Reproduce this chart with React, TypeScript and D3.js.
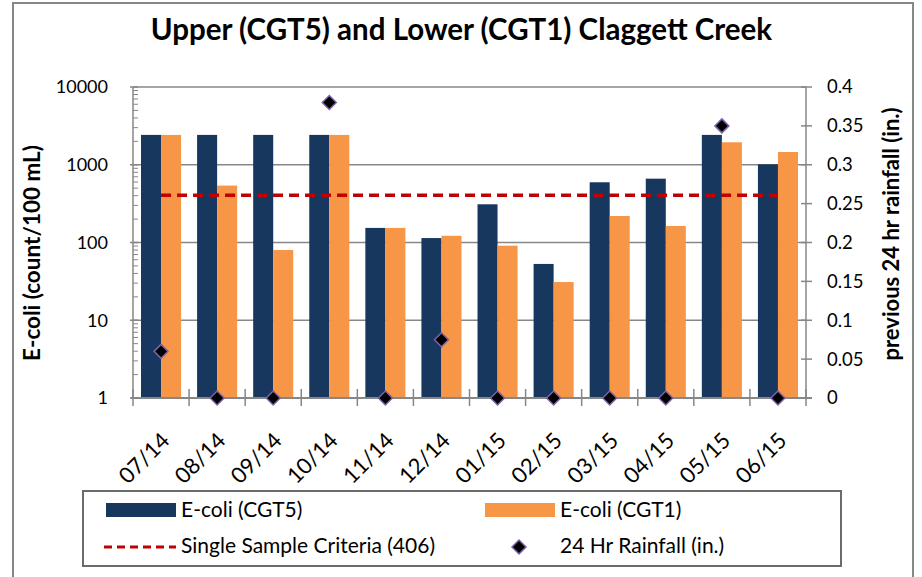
import React from "react";
import * as d3 from "d3";

const categories = ["07/14", "08/14", "09/14", "10/14", "11/14", "12/14", "01/15", "02/15", "03/15", "04/15", "05/15", "06/15"];
const seriesNames = ["E-coli (CGT5)", "E-coli (CGT1)"];
const cgt5 = [2420, 2420, 2420, 2420, 154, 114, 310, 53, 595, 662, 2420, 1013];
const cgt1 = [2420, 540, 80, 2420, 154, 122, 91, 31, 219, 163, 1945, 1460];
const rainfall = [0.06, 0, 0, 0.38, 0, 0.075, 0, 0, 0, 0, 0.35, 0];
const criteria = 406;
const leftTicks = [1, 10, 100, 1000, 10000];
const rightTicks = [0, 0.05, 0.1, 0.15, 0.2, 0.25, 0.3, 0.35, 0.4];

const BLUE = "#17375E";
const ORANGE = "#F79646";
const RED = "#C00000";
const GRID = "#878787";
const FONT = "Lato, 'Open Sans', sans-serif";

export default function App() {
  const left = 133, right = 806, top = 87, bottom = 398;
  const x = d3.scaleBand<string>().domain(categories).range([left, right]).padding(0);
  const bw = x.bandwidth();
  const x1 = d3.scaleBand<string>().domain(seriesNames).range([0, bw]).paddingInner(0).paddingOuter(0.4);
  const y = d3.scaleLog().domain([1, 10000]).range([bottom, top]);
  const y2 = d3.scaleLinear().domain([0, 0.4]).range([bottom, top]);

  const minor: number[] = [];
  for (let d = 1; d < 10000; d *= 10) for (let k = 2; k <= 9; k++) minor.push(d * k);

  const boundaries = categories.map((c) => x(c)!).concat([right]);
  const cx = (c: string) => x(c)! + bw / 2;
  const diamond = (px: number, py: number, r: number) =>
    `M${px},${py - r}L${px + r},${py}L${px},${py + r}L${px - r},${py}Z`;

  const series = [cgt5, cgt1];
  const colors = [BLUE, ORANGE];

  return (
    <svg width={922} height={577} style={{ position: "absolute", left: 0, top: 0, background: "#fff" }} fontFamily={FONT}>
      <rect x={13} y={3} width={900} height={600} fill="#fff" stroke={GRID} strokeWidth={2} />
      <text x={461.5} y={40} textAnchor="middle" fontSize={29.5} fontWeight="bold" fill="#000">
        Upper (CGT5) and Lower (CGT1) Claggett Creek
      </text>

      {/* gridlines */}
      {leftTicks.slice(1).map((t) => (
        <line key={"g" + t} x1={left} x2={right} y1={y(t)} y2={y(t)} stroke={GRID} strokeWidth={1.5} />
      ))}

      {/* bars */}
      {series.map((vals, si) =>
        categories.map((c, i) => (
          <rect
            key={si + "-" + c}
            x={x(c)! + x1(seriesNames[si])!}
            y={y(vals[i])}
            width={x1.bandwidth()}
            height={bottom - y(vals[i])}
            fill={colors[si]}
          />
        ))
      )}

      {/* criteria line */}
      <line
        x1={cx(categories[0])}
        x2={cx(categories[categories.length - 1])}
        y1={y(criteria)}
        y2={y(criteria)}
        stroke={RED}
        strokeWidth={3.5}
        strokeDasharray="10,6"
      />

      {/* axes */}
      <line x1={left} x2={left} y1={top} y2={bottom} stroke={GRID} strokeWidth={1.5} />
      <line x1={right} x2={right} y1={top} y2={bottom} stroke={GRID} strokeWidth={1.5} />
      <line x1={left - 2} x2={right + 6} y1={bottom} y2={bottom} stroke={GRID} strokeWidth={2} />
      {minor.map((m) => (
        <line key={"m" + m} x1={left} x2={left + 5} y1={y(m)} y2={y(m)} stroke={GRID} strokeWidth={1} />
      ))}
      {leftTicks.map((t) => (
        <line key={"lt" + t} x1={left - 3} x2={left + 5} y1={y(t)} y2={y(t)} stroke={GRID} strokeWidth={1.5} />
      ))}
      {rightTicks.map((t) => (
        <line key={"rt" + t} x1={right - 5} x2={right + 6} y1={y2(t)} y2={y2(t)} stroke={GRID} strokeWidth={1.5} />
      ))}
      {boundaries.map((b, i) => (
        <line key={"bt" + i} x1={b} x2={b} y1={bottom - 9} y2={bottom + 8} stroke={GRID} strokeWidth={1.5} />
      ))}

      {/* rainfall diamonds */}
      {categories.map((c, i) => (
        <path key={"d" + c} d={diamond(cx(c), y2(rainfall[i]), 7)} fill="#000" stroke="#7F62A8" strokeWidth={1.5} />
      ))}

      {/* left tick labels */}
      {leftTicks.map((t) => (
        <text key={"ll" + t} x={108} y={y(t)} dy="0.35em" textAnchor="end" fontSize={18} fill="#000">
          {String(t)}
        </text>
      ))}
      {rightTicks.map((t) => (
        <text key={"rl" + t} x={827} y={y2(t)} dy="0.35em" textAnchor="start" fontSize={18.5} fill="#000">
          {String(t)}
        </text>
      ))}
      {categories.map((c) => (
        <text
          key={"xl" + c}
          transform={`translate(${cx(c) + 10},${442}) rotate(-45)`}
          textAnchor="end"
          fontSize={22}
          fill="#000"
        >
          {c}
        </text>
      ))}

      {/* axis titles */}
      <text transform="translate(40,253) rotate(-90)" textAnchor="middle" fontSize={22.5} fontWeight="bold" fill="#000">
        E-coli (count/100 mL)
      </text>
      <text transform="translate(899,234) rotate(-90)" textAnchor="middle" fontSize={22} fontWeight="bold" fill="#000">
        previous 24 hr rainfall (in.)
      </text>

      {/* legend */}
      <rect x={83} y={491} width={758} height={75} fill="#fff" stroke="#6B6B6B" strokeWidth={2} />
      <rect x={106} y={503} width={70} height={14} fill={BLUE} />
      <text x={181} y={517} fontSize={21} fill="#000">{seriesNames[0]}</text>
      <rect x={485} y={503} width={70} height={14} fill={ORANGE} />
      <text x={560} y={517} fontSize={21} fill="#000">{seriesNames[1]}</text>
      <line x1={104} x2={176} y1={547} y2={547} stroke={RED} strokeWidth={3} strokeDasharray="8,5" />
      <text x={181} y={553} fontSize={21} fill="#000">Single Sample Criteria (406)</text>
      <path d={diamond(519, 547, 7)} fill="#000" stroke="#7F62A8" strokeWidth={1.5} />
      <text x={560} y={553} fontSize={21} fill="#000">24 Hr Rainfall (in.)</text>
    </svg>
  );
}
